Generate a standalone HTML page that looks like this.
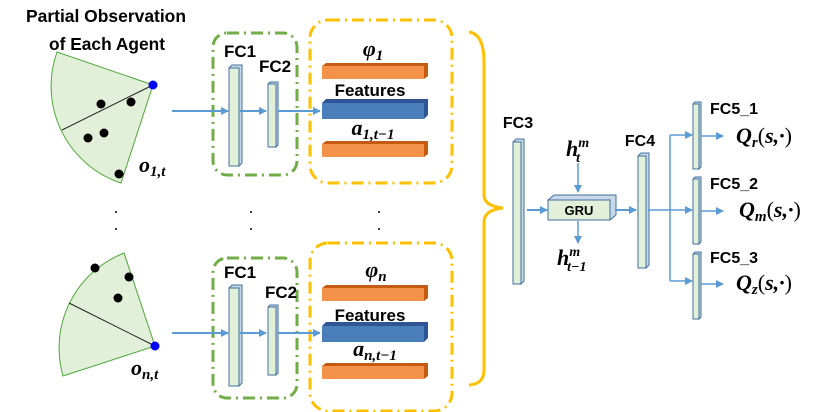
<!DOCTYPE html>
<html><head><meta charset="utf-8"><style>
body{margin:0;background:#fff}
svg{display:block}
.l{font-family:"Liberation Sans",sans-serif;font-weight:bold;font-size:15px;fill:#000}
.m{font-family:"Liberation Serif",serif;font-weight:bold;font-style:italic;font-size:22px;fill:#000}
</style></head><body>
<svg width="830" height="412" viewBox="0 0 830 412" xmlns="http://www.w3.org/2000/svg">
<defs>
<marker id="a" markerWidth="8" markerHeight="8" refX="7" refY="4" orient="auto" markerUnits="userSpaceOnUse"><path d="M0,0 L8,4 L0,8 z" fill="#5b9bd5"/></marker>
</defs>
<!-- top sector -->
<text class="l" x="106" y="22" text-anchor="middle" style="font-size:17.5px" textLength="160" lengthAdjust="spacingAndGlyphs">Partial Observation</text>
<text class="l" x="107" y="50" text-anchor="middle" style="font-size:17.5px" textLength="116" lengthAdjust="spacingAndGlyphs">of Each Agent</text>
<path d="M153,85 L57,52 A102,102 0 0 0 121,183 Z" fill="#e2efd9" stroke="#4ea83a" stroke-width="1"/>
<line x1="153" y1="85" x2="62" y2="130" stroke="#222" stroke-width="1"/>
<circle cx="153" cy="85" r="4.5" fill="#0000ff"/>
<g fill="#000"><circle cx="101" cy="104" r="4.5"/><circle cx="131" cy="102" r="4.5"/><circle cx="88" cy="138" r="4.5"/><circle cx="104" cy="133" r="4.5"/><circle cx="119" cy="174" r="4.5"/></g>
<text class="m" x="139" y="172">o<tspan font-size="15" dy="4">1,t</tspan></text>
<!-- bottom sector -->
<path d="M155,346 L124,253 A102,102 0 0 0 63,376 Z" fill="#e2efd9" stroke="#4ea83a" stroke-width="1"/>
<line x1="155" y1="346" x2="69" y2="303" stroke="#222" stroke-width="1"/>
<circle cx="155" cy="346" r="4.5" fill="#0000ff"/>
<g fill="#000"><circle cx="95" cy="268" r="4.5"/><circle cx="129" cy="277" r="4.5"/><circle cx="118" cy="298" r="4.5"/></g>
<text class="m" x="131" y="375">o<tspan font-size="15" dy="4">n,t</tspan></text>
<!-- dots -->
<g fill="#000"><circle cx="116" cy="212" r="1"/><circle cx="116" cy="229" r="1"/><circle cx="251" cy="212" r="1"/><circle cx="251" cy="229" r="1"/><circle cx="379" cy="212" r="1"/><circle cx="379" cy="229" r="1"/></g>

<g>
<rect x="213" y="33" width="84" height="142" rx="14" fill="none" stroke="#70ad47" stroke-width="3" stroke-dasharray="12,5,2,5"/>
<rect x="310" y="20" width="142" height="163" rx="18" fill="none" stroke="#ffc000" stroke-width="3" stroke-dasharray="12,5,2,5"/>
<text class="l" x="240" y="57" text-anchor="middle" style="font-size:17px">FC1</text>
<text class="l" x="275" y="72" text-anchor="middle" style="font-size:17px">FC2</text>
<line x1="172" y1="111" x2="228" y2="111" stroke="#5b9bd5" stroke-width="2" marker-end="url(#a)"/>
<path d="M229,68 l3,-3 h10 v98 l-3,3 z" fill="#c8d8e8" stroke="#41719c"/>
<rect x="229" y="68" width="10" height="98" fill="#e2efd9" stroke="#41719c"/>
<line x1="240" y1="111" x2="266" y2="111" stroke="#5b9bd5" stroke-width="2" marker-end="url(#a)"/>
<path d="M268,84 l2,-2 h8 v63 l-2,2 z" fill="#c8d8e8" stroke="#41719c"/>
<rect x="268" y="84" width="8" height="63" fill="#e2efd9" stroke="#41719c"/>
<line x1="278" y1="111" x2="320" y2="111" stroke="#5b9bd5" stroke-width="2" marker-end="url(#a)"/>
<text class="m" x="373" y="56" text-anchor="middle">φ<tspan font-size="15" dy="4">1</tspan></text>
<path d="M322,66 l4,-3 h102 v13 l-4,3 z" fill="#c55a11"/><rect x="322" y="66" width="102" height="13" fill="#f4924a"/>
<text class="l" x="370" y="96" text-anchor="middle" style="font-size:17px">Features</text>
<path d="M322,103 l4,-4 h102 v16 l-4,4 z" fill="#2f5597"/><rect x="322" y="103" width="102" height="16" fill="#4a7ebb"/>
<text class="m" x="373" y="135" text-anchor="middle">a<tspan font-size="15" dy="4">1,t−1</tspan></text>
<path d="M322,144 l4,-3 h102 v13 l-4,3 z" fill="#c55a11"/><rect x="322" y="144" width="102" height="13" fill="#f4924a"/>
</g>
<g transform="translate(0,222)">
<rect x="213" y="36" width="84" height="140" rx="14" fill="none" stroke="#70ad47" stroke-width="3" stroke-dasharray="12,5,2,5"/>
<rect x="310" y="21" width="142" height="168" rx="18" fill="none" stroke="#ffc000" stroke-width="3" stroke-dasharray="12,5,2,5"/>
<text class="l" x="240" y="56" text-anchor="middle" style="font-size:17px">FC1</text>
<text class="l" x="281" y="76" text-anchor="middle" style="font-size:17px">FC2</text>
<line x1="172" y1="111" x2="228" y2="111" stroke="#5b9bd5" stroke-width="2" marker-end="url(#a)"/>
<path d="M229,66 l3,-3 h10 v98 l-3,3 z" fill="#c8d8e8" stroke="#41719c"/>
<rect x="229" y="66" width="10" height="98" fill="#e2efd9" stroke="#41719c"/>
<line x1="240" y1="111" x2="266" y2="111" stroke="#5b9bd5" stroke-width="2" marker-end="url(#a)"/>
<path d="M268,85 l2,-2 h8 v68 l-2,2 z" fill="#c8d8e8" stroke="#41719c"/>
<rect x="268" y="85" width="8" height="68" fill="#e2efd9" stroke="#41719c"/>
<line x1="278" y1="111" x2="320" y2="111" stroke="#5b9bd5" stroke-width="2" marker-end="url(#a)"/>
<text class="m" x="376" y="55" text-anchor="middle">φ<tspan font-size="15" dy="4">n</tspan></text>
<path d="M322,66 l4,-3 h102 v13 l-4,3 z" fill="#c55a11"/><rect x="322" y="66" width="102" height="13" fill="#f4924a"/>
<text class="l" x="370" y="99" text-anchor="middle" style="font-size:17px">Features</text>
<path d="M322,104 l4,-4 h102 v16 l-4,4 z" fill="#2f5597"/><rect x="322" y="104" width="102" height="16" fill="#4a7ebb"/>
<text class="m" x="375" y="134" text-anchor="middle">a<tspan font-size="15" dy="4">n,t−1</tspan></text>
<path d="M322,144 l4,-3 h102 v13 l-4,3 z" fill="#c55a11"/><rect x="322" y="144" width="102" height="13" fill="#f4924a"/>
</g>
<!-- brace -->
<path d="M469,32 Q484,34 484,62 L484,195 Q484,206 503,208 Q484,210 484,222 L484,370 Q484,384 469,385" fill="none" stroke="#ffc000" stroke-width="3"/>
<!-- FC3 -->
<text class="l" x="518" y="128" text-anchor="middle" style="font-size:16px">FC3</text>
<path d="M513,142 l3,-3 h8 v142 l-3,3 z" fill="#c8d8e8" stroke="#41719c"/>
<rect x="513" y="142" width="8" height="142" fill="#e2efd9" stroke="#41719c"/>
<line x1="527" y1="210" x2="547" y2="210" stroke="#5b9bd5" stroke-width="2" marker-end="url(#a)"/>
<!-- GRU -->
<path d="M548,200 l6,-5 h62 v20 l-6,5 z" fill="#c8d8e8" stroke="#41719c"/>
<rect x="548" y="200" width="62" height="20" fill="#e2efd9" stroke="#41719c"/>
<text class="l" x="579" y="215" text-anchor="middle" style="font-size:13px">GRU</text>
<text class="m" x="566" y="156">h<tspan font-size="14" dy="-9">m</tspan><tspan font-size="14" dx="-13" dy="15">t</tspan></text>
<line x1="578" y1="163" x2="578" y2="192" stroke="#5b9bd5" stroke-width="1.5" marker-end="url(#a)"/>
<line x1="578" y1="221" x2="578" y2="243" stroke="#5b9bd5" stroke-width="1.5" marker-end="url(#a)"/>
<text class="m" x="557" y="265">h<tspan font-size="14" dy="-9">m</tspan><tspan font-size="14" dx="-13" dy="15">t−1</tspan></text>
<line x1="615" y1="210" x2="636" y2="210" stroke="#5b9bd5" stroke-width="2" marker-end="url(#a)"/>
<!-- FC4 -->
<text class="l" x="640" y="146" text-anchor="middle" style="font-size:16px">FC4</text>
<path d="M638,156 l3,-3 h8 v112 l-3,3 z" fill="#c8d8e8" stroke="#41719c"/>
<rect x="638" y="156" width="8" height="112" fill="#e2efd9" stroke="#41719c"/>
<line x1="648" y1="210" x2="692" y2="210" stroke="#5b9bd5" stroke-width="1.5" marker-end="url(#a)"/>
<path d="M670,281 V135" fill="none" stroke="#5b9bd5" stroke-width="1.5"/>
<line x1="670" y1="135" x2="692" y2="135" stroke="#5b9bd5" stroke-width="1.5" marker-end="url(#a)"/>
<line x1="670" y1="281" x2="692" y2="281" stroke="#5b9bd5" stroke-width="1.5" marker-end="url(#a)"/>
<!-- FC5 -->
<g>
<path d="M693,104 l2,-2 h6 v65 l-2,2 z" fill="#c8d8e8" stroke="#41719c"/><rect x="693" y="104" width="6" height="65" fill="#e2efd9" stroke="#41719c"/>
<path d="M693,179 l2,-2 h6 v65 l-2,2 z" fill="#c8d8e8" stroke="#41719c"/><rect x="693" y="179" width="6" height="65" fill="#e2efd9" stroke="#41719c"/>
<path d="M693,254 l2,-2 h6 v65 l-2,2 z" fill="#c8d8e8" stroke="#41719c"/><rect x="693" y="254" width="6" height="65" fill="#e2efd9" stroke="#41719c"/>
</g>
<line x1="701" y1="136" x2="723" y2="136" stroke="#5b9bd5" stroke-width="1.5" marker-end="url(#a)"/>
<line x1="701" y1="211" x2="723" y2="211" stroke="#5b9bd5" stroke-width="1.5" marker-end="url(#a)"/>
<line x1="701" y1="284" x2="723" y2="284" stroke="#5b9bd5" stroke-width="1.5" marker-end="url(#a)"/>
<text class="l" x="710" y="114" style="font-size:16px">FC5_1</text>
<text class="l" x="710" y="189" style="font-size:16px">FC5_2</text>
<text class="l" x="710" y="263" style="font-size:16px">FC5_3</text>
<text class="m" x="736" y="143">Q<tspan font-size="15" dy="4">r</tspan><tspan dy="-4" font-style="normal" font-weight="normal">(</tspan>s,·<tspan font-style="normal" font-weight="normal">)</tspan></text>
<text class="m" x="739" y="217">Q<tspan font-size="15" dy="4">m</tspan><tspan dy="-4" font-style="normal" font-weight="normal">(</tspan>s,·<tspan font-style="normal" font-weight="normal">)</tspan></text>
<text class="m" x="736" y="290">Q<tspan font-size="15" dy="4">z</tspan><tspan dy="-4" font-style="normal" font-weight="normal">(</tspan>s,·<tspan font-style="normal" font-weight="normal">)</tspan></text>
</svg>
</body></html>
